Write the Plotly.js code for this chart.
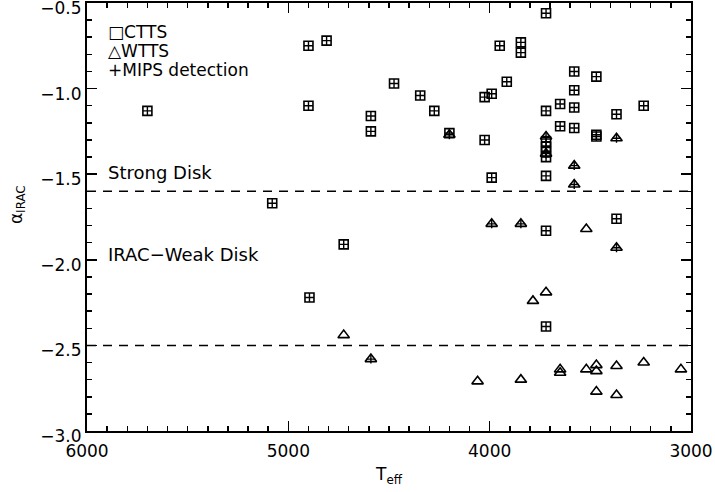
<!DOCTYPE html>
<html>
<head>
<meta charset="utf-8">
<script src="https://cdn.plot.ly/plotly-3.0.1.min.js"></script>
<style>html,body{margin:0;padding:0;background:#fff;}#chart{width:715px;height:492px;}</style>
</head>
<body>
<div id="chart"></div>
<script>
// CTTS (all with MIPS detection)
const cttsTeff = [5700, 4900, 4810, 4900, 4475, 4590, 4590, 5080, 3720, 3950, 3845, 3845,
  4345, 4275, 4200, 4025, 3990, 3915, 4025, 3990, 3720, 3720, 3720, 3720, 3720, 3720,
  3650, 3650, 3580, 3580, 3580, 3580, 3470, 3470, 3470, 3370, 3235, 3370, 4725, 4895, 3720, 3720];
const cttsAlpha = [-1.13, -0.75, -0.72, -1.10, -0.97, -1.16, -1.25, -1.67, -0.56, -0.75, -0.73, -0.79,
  -1.04, -1.13, -1.26, -1.05, -1.03, -0.96, -1.30, -1.52, -1.13, -1.31, -1.34, -1.37, -1.40, -1.51,
  -1.09, -1.22, -0.90, -1.01, -1.11, -1.23, -0.93, -1.27, -1.28, -1.15, -1.10, -1.76, -1.91, -2.22, -1.83, -2.39];
const cttsMips = cttsTeff.map(() => true);

// WTTS
const wttsTeff = [3720, 3720, 3580, 3580, 3370, 3990, 3845, 3370, 4590, 4200,
  3520, 3720, 3785, 4725, 4060, 3845, 3650, 3650, 3520, 3470, 3470, 3370, 3235, 3050, 3470, 3370];
const wttsAlpha = [-1.28, -1.38, -1.45, -1.56, -1.29, -1.79, -1.79, -1.93, -2.58, -1.27,
  -1.82, -2.19, -2.24, -2.44, -2.71, -2.70, -2.64, -2.66, -2.64, -2.615, -2.65, -2.62, -2.60, -2.64, -2.77, -2.79];
const wttsMips = [true, true, true, true, true, true, true, true, true, true,
  false, false, false, false, false, false, false, false, false, false, false, false, false, false, false, false];

// Disk boundaries
const boundaries = [-1.6, -2.5];
const regionLabels = ["Strong Disk", "IRAC\u2212Weak Disk"];
const legendLabels = ["\u25A1CTTS", "\u25B3WTTS", "+MIPS detection"];

const xRange = [6000, 3000];
const yRange = [-3.0, -0.5];

const mipsT = [], mipsA = [];
cttsTeff.forEach((t, i) => { if (cttsMips[i]) { mipsT.push(t); mipsA.push(cttsAlpha[i]); } });
wttsTeff.forEach((t, i) => { if (wttsMips[i]) { mipsT.push(t); mipsA.push(wttsAlpha[i]); } });

const FONT = 'DejaVu Sans, sans-serif';
const traces = [
  { x: cttsTeff, y: cttsAlpha, mode: 'markers', type: 'scatter', name: 'CTTS',
    marker: { symbol: 'square-open', size: 9, color: '#000', line: { width: 1.6, color: '#000' } } },
  { x: wttsTeff, y: wttsAlpha, mode: 'markers', type: 'scatter', name: 'WTTS',
    marker: { symbol: 'triangle-up-open', size: 10, color: '#000', line: { width: 1.6, color: '#000' } } },
  { x: mipsT, y: mipsA, mode: 'markers', type: 'scatter', name: 'MIPS detection',
    marker: { symbol: 'cross-thin-open', size: 6.4, color: '#000', line: { width: 1.4, color: '#000' } } },
  // invisible trace to activate the mirrored (top/right) tick axes
  { x: [], y: [], xaxis: 'x2', yaxis: 'y2', mode: 'markers', type: 'scatter', hoverinfo: 'skip', showlegend: false }
];

const shapes = boundaries.map(b => ({
  type: 'line', xref: 'paper', x0: 0, x1: 1, yref: 'y', y0: b, y1: b,
  line: { color: '#000', width: 1.5, dash: '9px,7px' }
}));

const RFONT = { family: FONT, size: 18, color: '#000' };
const LFONT = { family: FONT, size: 17, color: '#000' };
const annotations = [
  { text: regionLabels[0], xref: 'paper', yref: 'y', x: 0.032, y: -1.49, xanchor: 'left', yanchor: 'middle', showarrow: false, font: RFONT },
  { text: regionLabels[1], xref: 'paper', yref: 'y', x: 0.032, y: -1.97, xanchor: 'left', yanchor: 'middle', showarrow: false, font: RFONT },
  { text: legendLabels[0], xref: 'paper', yref: 'paper', x: 0.032, y: 0.933, xanchor: 'left', yanchor: 'middle', showarrow: false, font: LFONT },
  { text: legendLabels[1], xref: 'paper', yref: 'paper', x: 0.032, y: 0.888, xanchor: 'left', yanchor: 'middle', showarrow: false, font: LFONT },
  { text: legendLabels[2], xref: 'paper', yref: 'paper', x: 0.032, y: 0.843, xanchor: 'left', yanchor: 'middle', showarrow: false, font: LFONT },
  { text: '\u03B1<sub>IRAC</sub>', xref: 'paper', yref: 'paper', x: -0.116, y: 0.53, xanchor: 'center', yanchor: 'middle', textangle: -90, showarrow: false, font: { family: FONT, size: 17, color: '#000' } }
];

const axisCommon = {
  showline: true, linewidth: 2, linecolor: '#000', mirror: true,
  ticks: 'inside', ticklen: 10, tickwidth: 1.5, tickcolor: '#000',
  showgrid: false, zeroline: false, ticklabeloverflow: 'allow',
  tickfont: { family: FONT, size: 17, color: '#000' }
};
const xMinor = { dtick: 100, ticks: 'inside', ticklen: 5, tickwidth: 1.5, tickcolor: '#000' };
const yMinor = { dtick: 0.1, ticks: 'inside', ticklen: 5, tickwidth: 1.5, tickcolor: '#000' };

const layout = {
  width: 715, height: 492,
  margin: { l: 87, r: 24, t: 3, b: 61 },
  paper_bgcolor: '#fff', plot_bgcolor: '#fff',
  showlegend: false,
  font: { family: FONT, color: '#000' },
  xaxis: Object.assign({}, axisCommon, {
    range: xRange, tick0: 3000, dtick: 1000, minor: xMinor,
    ticklabelstandoff: 4,
    title: { text: 'T<sub>eff</sub>', font: { family: FONT, size: 17, color: '#000' }, standoff: 8 }
  }),
  yaxis: Object.assign({}, axisCommon, {
    range: yRange, tick0: -3.0, dtick: 0.5, tickformat: '.1f', minor: yMinor,
    ticklabelstandoff: 0, ticklabelshift: 5
  }),
  xaxis2: {
    overlaying: 'x', side: 'top', range: xRange, tick0: 3000, dtick: 1000, minor: xMinor,
    ticks: 'inside', ticklen: 10, tickwidth: 1.5, tickcolor: '#000', showticklabels: false,
    showline: false, showgrid: false, zeroline: false
  },
  yaxis2: {
    overlaying: 'y', side: 'right', range: yRange, tick0: -3.0, dtick: 0.5, minor: yMinor,
    ticks: 'inside', ticklen: 10, tickwidth: 1.5, tickcolor: '#000', showticklabels: false,
    showline: false, showgrid: false, zeroline: false
  },
  shapes: shapes,
  annotations: annotations
};

Plotly.newPlot('chart', traces, layout, { staticPlot: true, displayModeBar: false });
</script>
</body>
</html>
